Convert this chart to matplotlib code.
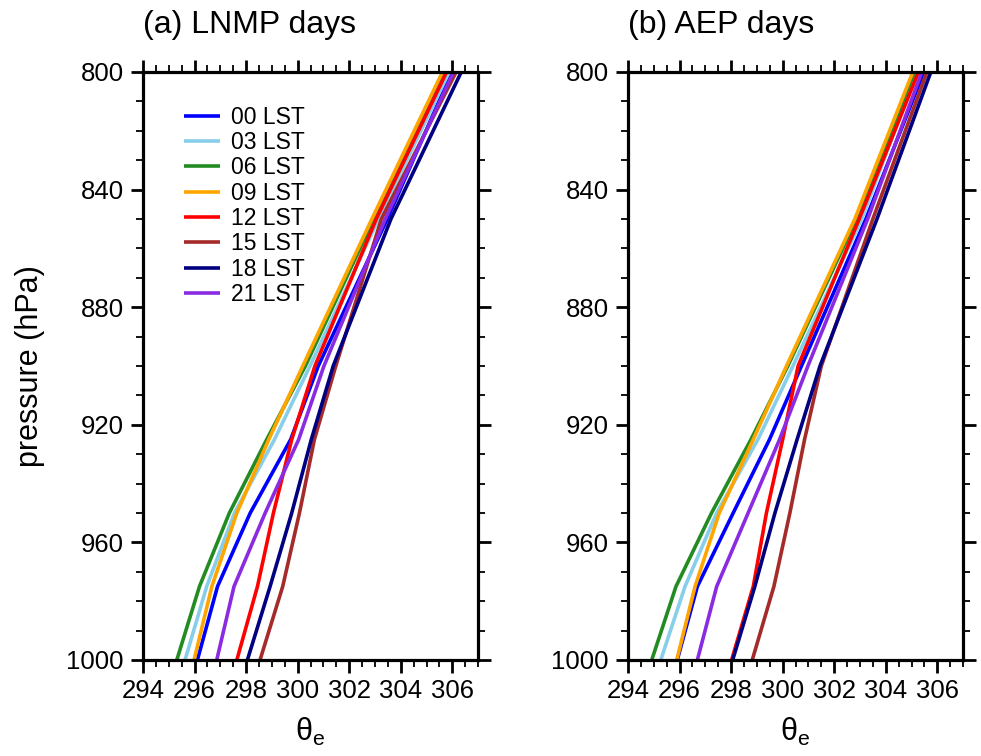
import matplotlib
matplotlib.use("Agg")
import matplotlib.pyplot as plt
from matplotlib.ticker import MultipleLocator

plt.rcParams['font.family'] = ['Liberation Sans', 'DejaVu Sans']
plt.rcParams['mathtext.fontset'] = 'custom'
plt.rcParams['mathtext.rm'] = 'Liberation Sans'

# pressure levels (hPa)
levels = [1000, 975, 950, 925, 900, 850, 800]

hours = ["00 LST", "03 LST", "06 LST", "09 LST", "12 LST", "15 LST", "18 LST", "21 LST"]
colors = ["blue", "skyblue", "forestgreen", "orange", "red", "brown", "navy", "blueviolet"]

# theta_e (K) on LNMP days, one list per hour
lnmp_00 = [296.11, 296.89, 298.16, 299.73, 300.80, 303.48, 305.98]
lnmp_03 = [295.63, 296.47, 297.55, 299.10, 300.48, 303.14, 305.88]
lnmp_06 = [295.31, 296.19, 297.35, 298.80, 300.30, 302.95, 305.70]
lnmp_09 = [295.98, 296.67, 297.64, 298.88, 300.20, 302.88, 305.62]
lnmp_12 = [297.64, 298.44, 299.06, 299.77, 300.67, 303.05, 305.78]
lnmp_15 = [298.54, 299.42, 300.07, 300.65, 301.48, 303.25, 306.15]
lnmp_18 = [298.05, 298.93, 299.77, 300.53, 301.38, 303.62, 306.35]
lnmp_21 = [296.86, 297.53, 298.74, 300.04, 301.02, 303.40, 306.05]

# theta_e (K) on AEP days
aep_00 = [295.91, 296.69, 298.08, 299.49, 300.73, 303.23, 305.48]
aep_03 = [295.27, 296.21, 297.44, 299.04, 300.40, 303.07, 305.20]
aep_06 = [294.92, 295.86, 297.24, 298.77, 300.20, 302.87, 305.12]
aep_09 = [295.89, 296.60, 297.54, 298.86, 300.15, 302.80, 305.05]
aep_12 = [298.02, 298.86, 299.37, 300.00, 300.60, 302.97, 305.27]
aep_15 = [298.82, 299.66, 300.28, 300.85, 301.50, 303.50, 305.60]
aep_18 = [298.06, 298.92, 299.70, 300.56, 301.45, 303.66, 305.75]
aep_21 = [296.69, 297.44, 298.66, 299.88, 300.98, 303.30, 305.40]

lnmp = [lnmp_00, lnmp_03, lnmp_06, lnmp_09, lnmp_12, lnmp_15, lnmp_18, lnmp_21]
aep = [aep_00, aep_03, aep_06, aep_09, aep_12, aep_15, aep_18, aep_21]

fig = plt.figure(figsize=(9.81, 7.56), dpi=100)
ax1 = fig.add_axes([0.1458, 0.127, 0.3415, 0.7778])
ax2 = fig.add_axes([0.6402, 0.127, 0.3415, 0.7778])

for ax, data, title in [(ax1, lnmp, "(a) LNMP days"), (ax2, aep, "(b) AEP days")]:
    for vals, c, lab in zip(data, colors, hours):
        ax.plot(vals, levels, color=c, lw=2.6, label=lab, solid_capstyle='butt')
    ax.set_xlim(294, 307)
    ax.set_ylim(1000, 800)
    ax.set_xticks([294, 296, 298, 300, 302, 304, 306])
    ax.set_yticks([800, 840, 880, 920, 960, 1000])
    ax.xaxis.set_minor_locator(MultipleLocator(0.5))
    ax.yaxis.set_minor_locator(MultipleLocator(10))
    ax.tick_params(which='both', direction='out', top=True, right=True,
                   width=2, labelsize=18.5, pad=5)
    ax.tick_params(which='major', length=9)
    ax.tick_params(which='minor', length=5, width=1.3)
    for s in ax.spines.values():
        s.set_linewidth(2.3)
    ax.set_xlabel(r'θ$_\mathrm{e}$', fontsize=22, labelpad=9)
    ax.set_title(title, loc='left', fontsize=23, pad=28)

ax1.set_ylabel("pressure (hPa)", fontsize=22, labelpad=15)

leg = ax1.legend(loc='upper left', bbox_to_anchor=(0.087, 0.962), frameon=False,
                 fontsize=16.5, handlelength=1.6, handletextpad=0.45,
                 labelspacing=0.1, borderpad=0)
for ln in leg.get_lines():
    ln.set_linewidth(2.6)

fig.savefig("out.png", dpi=100)
